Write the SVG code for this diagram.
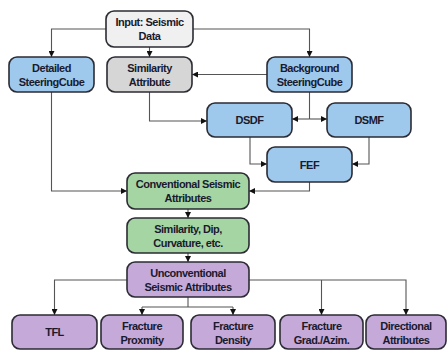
<svg xmlns="http://www.w3.org/2000/svg" width="448" height="351" viewBox="0 0 448 351">
<style>
.box{stroke:#2b2b33;stroke-width:1.6}
.gray1{fill:#f0f0f0}
.gray2{fill:#d6d6d6}
.blue{fill:#9fc9ec}
.green{fill:#a6d5a4}
.purple{fill:#c5a9d9}
text{font-family:"Liberation Sans",Arial,sans-serif;font-weight:bold;font-size:11px;fill:#1a1a2e;text-anchor:middle;letter-spacing:-0.5px}
.conn path{fill:none;stroke:#555;stroke-width:1.1}
</style>
<defs>
<marker id="ah" viewBox="0 0 6 6" refX="6" refY="3" markerWidth="6" markerHeight="6" markerUnits="userSpaceOnUse" orient="auto">
<path d="M0,0 L6,3 L0,6 z" fill="#111"/>
</marker>
</defs>
<rect width="448" height="351" fill="#fff"/>
<g class="conn">
<path d="M106,29 H51.5 V57" marker-end="url(#ah)"/>
<path d="M149.5,47 V57" marker-end="url(#ah)"/>
<path d="M193,29 H309.5 V57" marker-end="url(#ah)"/>
<path d="M267,74.5 H192" marker-end="url(#ah)"/>
<path d="M149.5,92 V121 H207" marker-end="url(#ah)"/>
<path d="M309.5,92 V119"/>
<path d="M309.5,119 H292" marker-end="url(#ah)"/>
<path d="M309.5,119 H327" marker-end="url(#ah)"/>
<path d="M250,137 V164 H267" marker-end="url(#ah)"/>
<path d="M369,137 V164 H352" marker-end="url(#ah)"/>
<path d="M309.5,182 V191 H249" marker-end="url(#ah)"/>
<path d="M51.5,92 V191 H127" marker-end="url(#ah)"/>
<path d="M188,209 V218" marker-end="url(#ah)"/>
<path d="M188,253 V262" marker-end="url(#ah)"/>
<path d="M127,280 H54.5 V315" marker-end="url(#ah)"/>
<path d="M188,297 V307"/>
<path d="M142,307 H233"/>
<path d="M142,307 V315" marker-end="url(#ah)"/>
<path d="M233,307 V315" marker-end="url(#ah)"/>
<path d="M249,280 H406 V315" marker-end="url(#ah)"/>
<path d="M321.5,280 V315" marker-end="url(#ah)"/>
</g>
<g id="input"><rect class="box gray1" x="106" y="11" width="87" height="36" rx="8"/><text x="149.5" y="26">Input: Seismic</text><text x="149.5" y="40">Data</text></g>
<g id="detailed"><rect class="box blue" x="9" y="57" width="85" height="35" rx="8"/><text x="51.5" y="72">Detailed</text><text x="51.5" y="86">SteeringCube</text></g>
<g id="similarity"><rect class="box gray2" x="107" y="57" width="85" height="35" rx="8"/><text x="149.5" y="72">Similarity</text><text x="149.5" y="86">Attribute</text></g>
<g id="background"><rect class="box blue" x="267" y="57" width="85" height="35" rx="8"/><text x="309.5" y="72">Background</text><text x="309.5" y="86">SteeringCube</text></g>
<g id="dsdf"><rect class="box blue" x="207" y="103" width="85" height="34" rx="8"/><text x="249.5" y="124">DSDF</text></g>
<g id="dsmf"><rect class="box blue" x="327" y="103" width="84" height="34" rx="8"/><text x="369" y="124">DSMF</text></g>
<g id="fef"><rect class="box blue" x="267" y="147" width="85" height="35" rx="8"/><text x="309.5" y="168.5">FEF</text></g>
<g id="conventional"><rect class="box green" x="127" y="173" width="122" height="36" rx="8"/><text x="188" y="188">Conventional Seismic</text><text x="188" y="202">Attributes</text></g>
<g id="simdip"><rect class="box green" x="127" y="218" width="122" height="35" rx="8"/><text x="188" y="233">Similarity, Dip,</text><text x="188" y="247">Curvature, etc.</text></g>
<g id="unconventional"><rect class="box purple" x="127" y="262" width="122" height="35" rx="8"/><text x="188" y="277">Unconventional</text><text x="188" y="291">Seismic Attributes</text></g>
<g id="tfl"><rect class="box purple" x="12" y="315" width="85" height="34" rx="8"/><text x="54.5" y="336">TFL</text></g>
<g id="proximity"><rect class="box purple" x="101" y="315" width="82" height="34" rx="8"/><text x="142" y="329.5">Fracture</text><text x="142" y="343.5">Proxmity</text></g>
<g id="density"><rect class="box purple" x="191" y="315" width="84" height="34" rx="8"/><text x="233" y="329.5">Fracture</text><text x="233" y="343.5">Density</text></g>
<g id="grad"><rect class="box purple" x="280" y="315" width="83" height="34" rx="8"/><text x="321.5" y="329.5">Fracture</text><text x="321.5" y="343.5">Grad./Azim.</text></g>
<g id="directional"><rect class="box purple" x="366" y="315" width="80" height="34" rx="8"/><text x="406" y="329.5">Directional</text><text x="406" y="343.5">Attributes</text></g>
</svg>
